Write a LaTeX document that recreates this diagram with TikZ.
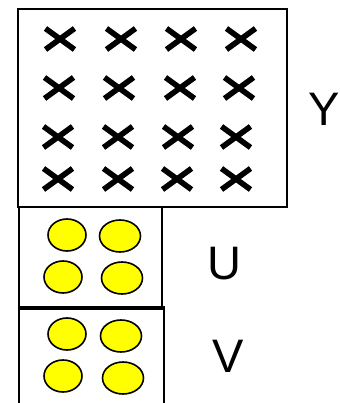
\documentclass[tikz,border=0pt]{standalone}
\usepackage{fontspec}
\setmainfont{Liberation Sans}
\usepackage{xcolor}
\definecolor{dotyellow}{RGB}{255,255,0}
\usetikzlibrary{shapes.geometric}

\begin{document}
\begin{tikzpicture}[
  x=1pt,y=-1pt,
  every node/.style={font=\fontsize{47}{50}\selectfont},
  panel/.style={draw,line width=1.5pt,inner sep=0pt},
  dot/.style={draw,line width=1.6pt,fill=dotyellow,ellipse,inner sep=0pt,
              minimum width=38pt,minimum height=32pt},
  cross/.style={line width=5.6pt},
]
  \useasboundingbox (0,0) rectangle (339,403);

  % Y panel with crosses
  \node[panel,minimum width=269pt,minimum height=198pt] (ybox) at (152.5,108) {};
  \foreach \cx/\cy in {60/39,121/39,181/39,241/39,
                       59/88,119/88,180/88,239/88,
                       58/137,118/137,178/137,236/137,
                       58/179,118/179,177/179,236/179}
    \draw[cross] (\cx-14.5,\cy-10.5) -- (\cx+14.5,\cy+10.5)
                 (\cx-14.5,\cy+10.5) -- (\cx+14.5,\cy-10.5);
  \node (ylabel) at (324,109) {Y};

  % U panel
  \node[panel,line width=2.6pt,minimum width=143pt,minimum height=100pt] (ubox) at (90.5,257) {};
  \node[dot] (u1) at (67,235) {};
  \node[dot,minimum width=41pt] (u2) at (120,236) {};
  \node[dot] (u3) at (63,277) {};
  \node[dot,minimum width=41pt] (u4) at (122,278) {};
  \node (ulabel) at (224,264) {U};

  % V panel
  \node[panel,minimum width=145pt,minimum height=120pt] (vbox) at (91.5,367) {};
  \draw[line width=2.6pt] (ubox.south west) -- (ubox.south east);
  \node[dot] (v1) at (67,334) {};
  \node[dot,minimum width=41pt] (v2) at (121,336) {};
  \node[dot] (v3) at (63,376) {};
  \node[dot,minimum width=41pt] (v4) at (123,378) {};
  \node (vlabel) at (228,356) {V};
\end{tikzpicture}
\end{document}
